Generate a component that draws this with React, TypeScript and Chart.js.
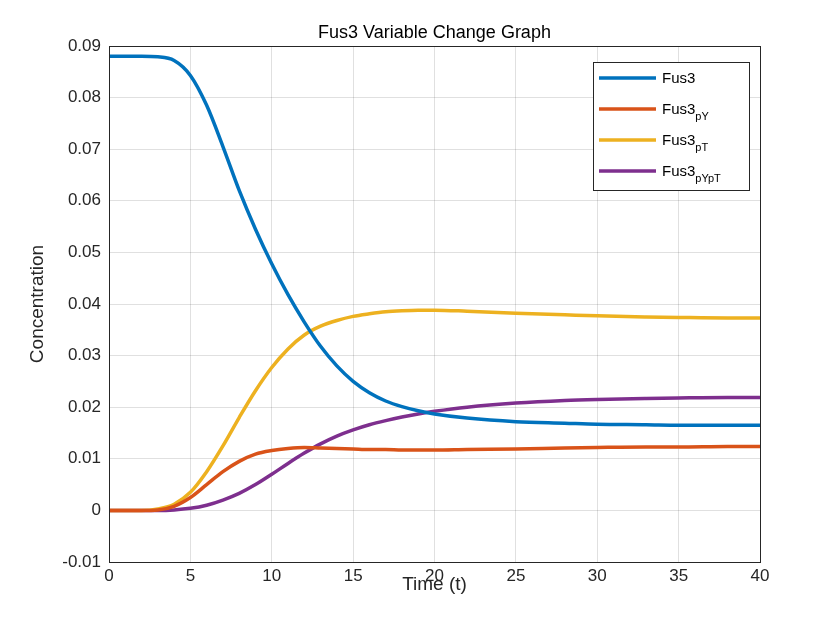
import { useEffect, useRef } from "react"
import { Chart, registerables } from "chart.js"

Chart.register(...registerables)

const times = [0, 1, 2, 3, 4, 5, 6, 7, 8, 9, 10, 11, 12, 13, 14, 15, 16, 17, 18, 19, 20, 22, 25, 28, 30, 33, 35, 38, 40]
const fus3 = [0.088, 0.088, 0.088, 0.0879, 0.0872, 0.0843, 0.0785, 0.0705, 0.062, 0.0545, 0.0478, 0.0418, 0.0365, 0.0318, 0.028, 0.025, 0.0228, 0.0212, 0.0201, 0.0193, 0.0187, 0.0179, 0.0172, 0.0169, 0.0167, 0.0166, 0.0165, 0.0165, 0.0165]
const fus3pY = [0, 0, 0, 0.0001, 0.0008, 0.0025, 0.005, 0.0075, 0.0095, 0.0109, 0.0116, 0.012, 0.0122, 0.0121, 0.012, 0.0119, 0.0118, 0.0118, 0.0117, 0.0117, 0.0117, 0.0118, 0.0119, 0.0121, 0.0122, 0.0123, 0.0123, 0.0124, 0.0124]
const fus3pT = [0, 0, 0, 0.0003, 0.0012, 0.0035, 0.0075, 0.0125, 0.018, 0.0232, 0.0277, 0.0313, 0.034, 0.0357, 0.0368, 0.0376, 0.0381, 0.0385, 0.0387, 0.0388, 0.0388, 0.0386, 0.0382, 0.0379, 0.0377, 0.0375, 0.0374, 0.0373, 0.0373]
const fus3pYpT = [0, 0, 0, 0, 0.0001, 0.0004, 0.001, 0.002, 0.0033, 0.005, 0.007, 0.0091, 0.0111, 0.0129, 0.0144, 0.0156, 0.0166, 0.0174, 0.0181, 0.0187, 0.0192, 0.02, 0.0208, 0.0213, 0.0215, 0.0217, 0.0218, 0.0219, 0.0219]

const series = [
  { base: "Fus3", sub: "", data: fus3, color: "#0072BD" },
  { base: "Fus3", sub: "pY", data: fus3pY, color: "#D95319" },
  { base: "Fus3", sub: "pT", data: fus3pT, color: "#EDB120" },
  { base: "Fus3", sub: "pYpT", data: fus3pYpT, color: "#7E2F8E" },
]

const FONT = "'Liberation Sans', Arial, sans-serif"

const decorPlugin = {
  id: "decor",
  afterDraw(chart: Chart) {
    const { ctx, chartArea: a } = chart
    ctx.save()
    ctx.strokeStyle = "#262626"
    ctx.lineWidth = 1
    ctx.strokeRect(a.left + 0.5, a.top + 0.5, a.right - a.left, a.bottom - a.top)
    // title
    ctx.fillStyle = "#000"
    ctx.font = `18px ${FONT}`
    ctx.textAlign = "center"
    ctx.textBaseline = "alphabetic"
    ctx.fillText("Fus3 Variable Change Graph", (a.left + a.right) / 2, 38)
    // legend
    const lx = 593, ly = 62, lw = 156, lh = 128
    ctx.fillStyle = "#fff"
    ctx.fillRect(lx, ly, lw, lh)
    ctx.strokeStyle = "#262626"
    ctx.strokeRect(lx + 0.5, ly + 0.5, lw, lh)
    ctx.textAlign = "left"
    series.forEach((s, i) => {
      const y = ly + 16 + i * 31
      ctx.strokeStyle = s.color
      ctx.lineWidth = 3.5
      ctx.beginPath()
      ctx.moveTo(lx + 6, y)
      ctx.lineTo(lx + 63, y)
      ctx.stroke()
      ctx.fillStyle = "#000"
      ctx.font = `15px ${FONT}`
      ctx.fillText(s.base, lx + 69, y + 5)
      if (s.sub) {
        const w = ctx.measureText(s.base).width
        ctx.font = `11px ${FONT}`
        ctx.fillText(s.sub, lx + 69 + w, y + 11)
      }
    })
    ctx.restore()
  },
}

export default function App() {
  const chartRef = useRef<HTMLCanvasElement>(null)
  const chartInstance = useRef<Chart | null>(null)

  useEffect(() => {
    if (!chartRef.current) return
    if (chartInstance.current) chartInstance.current.destroy()
    const ctx = chartRef.current.getContext("2d")
    if (!ctx) return

    chartInstance.current = new Chart(ctx, {
      type: "line",
      data: {
        datasets: series.map(s => ({
          label: s.base + s.sub,
          data: times.map((t, i) => ({ x: t, y: s.data[i] })),
          borderColor: s.color,
          backgroundColor: s.color,
          borderWidth: 3.5,
          pointRadius: 0,
          cubicInterpolationMode: "monotone" as const,
        })),
      },
      options: {
        animation: false,
        responsive: false,
        layout: { padding: { top: 46, right: 80, left: 26, bottom: 34 } },
        scales: {
          x: {
            type: "linear",
            min: 0,
            max: 40,
            ticks: { stepSize: 5, color: "#262626", font: { size: 17, family: FONT }, padding: 4 },
            grid: { color: "rgba(0,0,0,0.12)", drawTicks: false },
            border: { display: false },
            title: { display: true, text: "Time (t)", color: "#262626", font: { size: 19, family: FONT }, padding: 0 },
            afterFit: (s: any) => { s.height = 34 },
          },
          y: {
            min: -0.01,
            max: 0.09,
            ticks: {
              stepSize: 0.01,
              color: "#262626",
              font: { size: 17, family: FONT },
              padding: 8,
              callback: (v: any) => {
                const r = Math.round(Number(v) * 100) / 100
                return r === 0 ? "0" : r.toFixed(2)
              },
            },
            grid: { color: "rgba(0,0,0,0.12)", drawTicks: false },
            border: { display: false },
            title: { display: true, text: "Concentration", color: "#262626", font: { size: 19, family: FONT }, padding: 0 },
            afterFit: (s: any) => { s.width = 83 },
          },
        },
        plugins: {
          legend: { display: false },
          tooltip: { enabled: false },
        },
      },
      plugins: [decorPlugin],
    })

    return () => {
      if (chartInstance.current) chartInstance.current.destroy()
    }
  }, [])

  return (
    <div style={{ position: "fixed", left: 0, top: 0, width: 840, height: 630, background: "#fff" }}>
      <canvas ref={chartRef} width={840} height={630} />
    </div>
  )
}
